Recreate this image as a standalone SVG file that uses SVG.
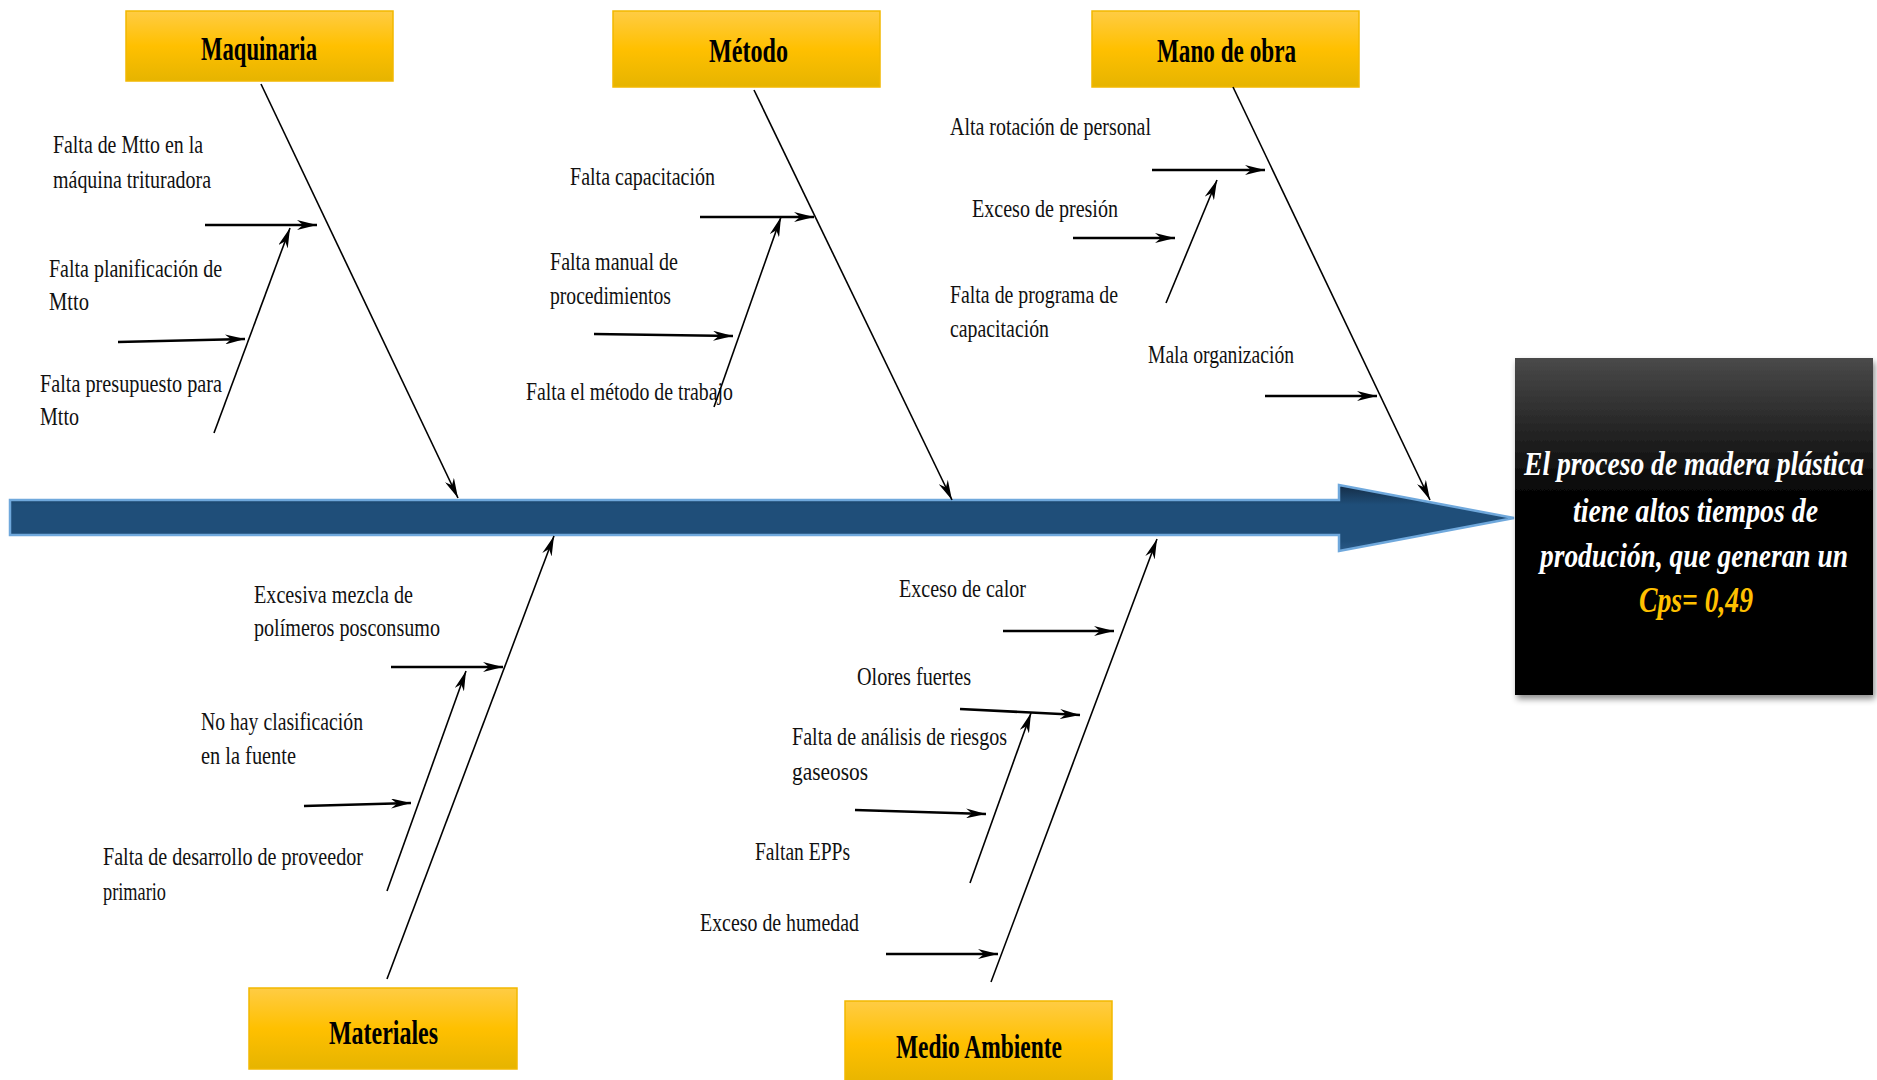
<svg xmlns="http://www.w3.org/2000/svg" width="1877" height="1080" viewBox="0 0 1877 1080">
  <defs>
    <linearGradient id="gold" x1="0" y1="0" x2="0" y2="1">
      <stop offset="0" stop-color="#FFCC44"/>
      <stop offset="0.5" stop-color="#FFC000"/>
      <stop offset="1" stop-color="#E6B400"/>
    </linearGradient>
    <linearGradient id="spine" x1="0" y1="0" x2="0" y2="1">
      <stop offset="0" stop-color="#142c45"/>
      <stop offset="0.3" stop-color="#1F4E79"/>
      <stop offset="0.85" stop-color="#1F4E79"/>
      <stop offset="1" stop-color="#2a5a88"/>
    </linearGradient>
    <linearGradient id="dark" x1="0" y1="0" x2="0" y2="1">
      <stop offset="0" stop-color="#4a4a4a"/>
      <stop offset="0.4" stop-color="#050505"/>
      <stop offset="1" stop-color="#000000"/>
    </linearGradient>
    <filter id="shadow" x="-5%" y="-5%" width="115%" height="115%">
      <feDropShadow dx="2" dy="4" stdDeviation="3" flood-color="#000" flood-opacity="0.45"/>
    </filter>
    <marker id="ah" viewBox="0 0 20 10" refX="20" refY="5" markerWidth="20" markerHeight="10" markerUnits="userSpaceOnUse" orient="auto">
      <path d="M0,0 L20,5 L0,10 L6,5 z" fill="#000"/>
    </marker>
    <style>
      .cat { fill: url(#gold); stroke: #F2B800; stroke-width: 1.5; }
      .cat-t { font-family: "Liberation Serif", "Times New Roman", serif; font-weight: bold; font-size: 34px; fill: #000; }
      .lbl { font-family: "Liberation Serif", "Times New Roman", serif; font-size: 25px; fill: #111; }
      .bone { stroke: #000; stroke-width: 1.6; fill: none; marker-end: url(#ah); }
      .sub { stroke: #000; stroke-width: 2.6; fill: none; marker-end: url(#ah); }
      .diag { stroke: #000; stroke-width: 1.6; fill: none; marker-end: url(#ah); }
      .eff-t { font-family: "Liberation Serif", "Times New Roman", serif; font-weight: bold; font-style: italic; font-size: 34px; fill: #fff; }
      .eff-k { fill: #FFC000; font-size: 36px; }
    </style>
  </defs>

  <rect width="1877" height="1080" fill="#fff"/>

  <!-- main spine arrow -->
  <g id="spine-arrow">
    <path d="M10,500 L1339,500 L1339,485 L1514,518 L1339,551 L1339,535 L10,535 Z" fill="url(#spine)" stroke="#6FA8DC" stroke-width="2.5" stroke-linejoin="miter"/>
  </g>

  <!-- effect -->
  <g id="effect">
    <rect x="1515" y="358" width="358" height="337" fill="url(#dark)" filter="url(#shadow)"/>
    <text class="eff-t" x="1524" y="475" textLength="340" lengthAdjust="spacingAndGlyphs">El proceso de madera plástica</text>
    <text class="eff-t" x="1573" y="522" textLength="245" lengthAdjust="spacingAndGlyphs">tiene altos tiempos de</text>
    <text class="eff-t" x="1540" y="567" textLength="308" lengthAdjust="spacingAndGlyphs">produción, que generan un</text>
    <text class="eff-t eff-k" x="1639" y="612" textLength="114" lengthAdjust="spacingAndGlyphs">Cps= 0,49</text>
  </g>

  <!-- category boxes -->
  <g id="maquinaria">
    <rect class="cat" x="126" y="11" width="267" height="70"/>
    <text class="cat-t" x="201" y="60" textLength="116" lengthAdjust="spacingAndGlyphs">Maquinaria</text>
  </g>
  <g id="metodo">
    <rect class="cat" x="613" y="11" width="267" height="76"/>
    <text class="cat-t" x="709" y="62" textLength="79" lengthAdjust="spacingAndGlyphs">Método</text>
  </g>
  <g id="mano-de-obra">
    <rect class="cat" x="1092" y="11" width="267" height="76"/>
    <text class="cat-t" x="1157" y="62" textLength="139" lengthAdjust="spacingAndGlyphs">Mano de obra</text>
  </g>
  <g id="materiales">
    <rect class="cat" x="249" y="988" width="268" height="81"/>
    <text class="cat-t" x="329" y="1044" textLength="109" lengthAdjust="spacingAndGlyphs">Materiales</text>
  </g>
  <g id="medio-ambiente">
    <rect class="cat" x="845" y="1001" width="267" height="85"/>
    <text class="cat-t" x="896" y="1058" textLength="166" lengthAdjust="spacingAndGlyphs">Medio Ambiente</text>
  </g>

  <!-- cause labels -->
  <g id="causes-maquinaria">
    <text class="lbl" x="53" y="153" textLength="150" lengthAdjust="spacingAndGlyphs">Falta de Mtto en la</text>
    <text class="lbl" x="53" y="188" textLength="158" lengthAdjust="spacingAndGlyphs">máquina trituradora</text>
    <text class="lbl" x="49" y="277" textLength="173" lengthAdjust="spacingAndGlyphs">Falta planificación de</text>
    <text class="lbl" x="49" y="310" textLength="40" lengthAdjust="spacingAndGlyphs">Mtto</text>
    <text class="lbl" x="40" y="392" textLength="182" lengthAdjust="spacingAndGlyphs">Falta presupuesto para</text>
    <text class="lbl" x="40" y="425" textLength="39" lengthAdjust="spacingAndGlyphs">Mtto</text>
  </g>
  <g id="causes-metodo">
    <text class="lbl" x="570" y="185" textLength="145" lengthAdjust="spacingAndGlyphs">Falta capacitación</text>
    <text class="lbl" x="550" y="270" textLength="128" lengthAdjust="spacingAndGlyphs">Falta manual de</text>
    <text class="lbl" x="550" y="304" textLength="121" lengthAdjust="spacingAndGlyphs">procedimientos</text>
    <text class="lbl" x="526" y="400" textLength="207" lengthAdjust="spacingAndGlyphs">Falta el método de trabajo</text>
  </g>
  <g id="causes-mano-de-obra">
    <text class="lbl" x="950" y="135" textLength="201" lengthAdjust="spacingAndGlyphs">Alta rotación de personal</text>
    <text class="lbl" x="972" y="217" textLength="146" lengthAdjust="spacingAndGlyphs">Exceso de presión</text>
    <text class="lbl" x="950" y="303" textLength="168" lengthAdjust="spacingAndGlyphs">Falta de programa de</text>
    <text class="lbl" x="950" y="337" textLength="99" lengthAdjust="spacingAndGlyphs">capacitación</text>
    <text class="lbl" x="1148" y="363" textLength="146" lengthAdjust="spacingAndGlyphs">Mala organización</text>
  </g>
  <g id="causes-materiales">
    <text class="lbl" x="254" y="603" textLength="159" lengthAdjust="spacingAndGlyphs">Excesiva mezcla de</text>
    <text class="lbl" x="254" y="636" textLength="186" lengthAdjust="spacingAndGlyphs">polímeros posconsumo</text>
    <text class="lbl" x="201" y="730" textLength="162" lengthAdjust="spacingAndGlyphs">No hay clasificación</text>
    <text class="lbl" x="201" y="764" textLength="95" lengthAdjust="spacingAndGlyphs">en la fuente</text>
    <text class="lbl" x="103" y="865" textLength="260" lengthAdjust="spacingAndGlyphs">Falta de desarrollo de proveedor</text>
    <text class="lbl" x="103" y="900" textLength="63" lengthAdjust="spacingAndGlyphs">primario</text>
  </g>
  <g id="causes-medio-ambiente">
    <text class="lbl" x="899" y="597" textLength="127" lengthAdjust="spacingAndGlyphs">Exceso de calor</text>
    <text class="lbl" x="857" y="685" textLength="114" lengthAdjust="spacingAndGlyphs">Olores fuertes</text>
    <text class="lbl" x="792" y="745" textLength="215" lengthAdjust="spacingAndGlyphs">Falta de análisis de riesgos</text>
    <text class="lbl" x="792" y="780" textLength="76" lengthAdjust="spacingAndGlyphs">gaseosos</text>
    <text class="lbl" x="755" y="860" textLength="95" lengthAdjust="spacingAndGlyphs">Faltan EPPs</text>
    <text class="lbl" x="700" y="931" textLength="159" lengthAdjust="spacingAndGlyphs">Exceso de humedad</text>
  </g>

  <!-- connectors -->
  <g id="connectors">
    <!-- category bones -->
    <line class="bone" x1="261" y1="84" x2="458" y2="498"/>
    <line class="bone" x1="754" y1="90" x2="952" y2="500"/>
    <line class="bone" x1="1233" y1="87" x2="1430" y2="500"/>
    <line class="bone" x1="387" y1="979" x2="554" y2="536"/>
    <line class="bone" x1="991" y1="982" x2="1157" y2="539"/>

    <!-- Maquinaria -->
    <line class="sub" x1="205" y1="225" x2="317" y2="225"/>
    <line class="sub" x1="118" y1="342" x2="245" y2="339"/>
    <line class="diag" x1="214" y1="433" x2="290" y2="228"/>

    <!-- Método -->
    <line class="sub" x1="700" y1="217" x2="814" y2="217"/>
    <line class="sub" x1="594" y1="334" x2="733" y2="336"/>
    <line class="diag" x1="714" y1="407" x2="781" y2="217"/>

    <!-- Mano de obra -->
    <line class="sub" x1="1152" y1="170" x2="1265" y2="170"/>
    <line class="sub" x1="1073" y1="238" x2="1175" y2="238"/>
    <line class="diag" x1="1166" y1="303" x2="1217" y2="180"/>
    <line class="sub" x1="1265" y1="396" x2="1377" y2="396"/>

    <!-- Materiales -->
    <line class="sub" x1="391" y1="667" x2="503" y2="667"/>
    <line class="sub" x1="304" y1="806" x2="411" y2="803"/>
    <line class="diag" x1="387" y1="891" x2="466" y2="671"/>

    <!-- Medio Ambiente -->
    <line class="sub" x1="1003" y1="631" x2="1114" y2="631"/>
    <line class="sub" x1="960" y1="709" x2="1080" y2="715"/>
    <line class="sub" x1="855" y1="810" x2="986" y2="814"/>
    <line class="diag" x1="970" y1="883" x2="1031" y2="713"/>
    <line class="sub" x1="886" y1="954" x2="998" y2="954"/>
  </g>
</svg>
